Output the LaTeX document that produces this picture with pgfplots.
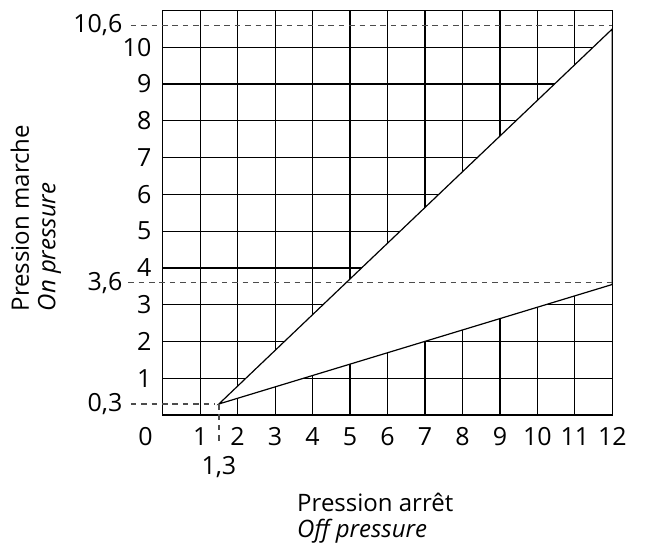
\documentclass[border=0pt]{standalone}
\usepackage{fontspec}
\setmainfont{Open Sans}
\usepackage{pgfplots}
\pgfplotsset{compat=1.18}

\begin{document}
\begin{tikzpicture}
\useasboundingbox (-81.35pt,-67.5pt) rectangle (242.65pt,207.5pt);
\begin{axis}[
    anchor=origin, at={(0pt,0pt)},
    x=18.735pt, y=18.385pt,
    xmin=0, xmax=12, ymin=0, ymax=11,
    xtick={1,...,12}, ytick={1,...,10},
    major tick length=0pt,
    grid=major,
    major grid style={black, line width=0.6pt},
    axis line style={black, line width=0.6pt},
    ticklabel style={font=\fontsize{12.5}{14}\selectfont, inner sep=0pt},
    /pgf/number format/assume math mode=true,
    yticklabel style={xshift=-5.5pt},
    xticklabel style={yshift=-6pt},
    extra x ticks={0},
    extra x tick style={grid=none, xticklabel style={xshift=-8.6pt}},
    extra y ticks={0.3,3.6,10.6},
    extra y tick labels={{0,3},{3,6},{10,6}},
    extra y tick style={grid=none, yticklabel style={xshift=-14.5pt}},
    clip=false,
]
% zone between the two pressure limits
\addplot[draw=black, line width=0.6pt, fill=white] coordinates {
    (1.5,0.3) (12,10.5) (12,3.55)
} -- cycle;

% reference dashes
\addplot[black!70, line width=0.65pt, dash pattern=on 2.8pt off 2.4pt] coordinates {(-0.85,0.3) (1.4,0.3)};
\addplot[black!70, line width=0.65pt, dash pattern=on 2.8pt off 2.4pt] coordinates {(1.5,0.3) (1.5,-0.77)};
\addplot[black!70, line width=0.65pt, dash pattern=on 2.8pt off 2.4pt] coordinates {(-0.92,3.6) (12,3.6)};
\addplot[black!70, line width=0.65pt, dash pattern=on 2.8pt off 2.4pt] coordinates {(-0.85,10.6) (12,10.6)};

\node[anchor=north, inner sep=0pt, font=\fontsize{12.5}{14}\selectfont] at (axis cs:1.5,-1.12) {1,3};
\node[rotate=90, anchor=south west, align=left, inner sep=0pt, font=\fontsize{12}{13.3}\selectfont]
    at (axis cs:-2.70,2.81) {Pression marche\\\textit{On pressure}};
\node[anchor=base west, align=left, inner sep=0pt, font=\fontsize{12}{13.3}\selectfont]
    at (axis cs:3.58,-3.345) {Pression arrêt\\\textit{Off pressure}};
\end{axis}
\end{tikzpicture}
\end{document}
